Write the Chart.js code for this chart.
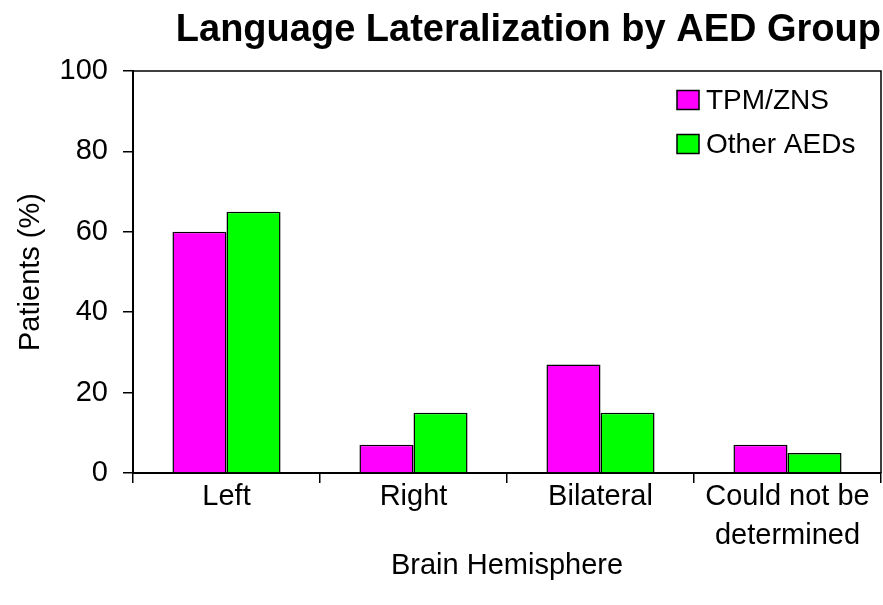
<!DOCTYPE html>
<html>
<head>
<meta charset="utf-8">
<script src="https://cdn.jsdelivr.net/npm/chart.js@4.4.1/dist/chart.umd.min.js"></script>
<style>
  html, body { margin: 0; padding: 0; background: #ffffff; }
  #wrap { width: 883px; height: 605px; position: relative; }
</style>
</head>
<body>
<div id="wrap"><canvas id="c" width="883" height="605"></canvas></div>
<script>
const chartTitle = 'Language Lateralization by AED Group';
const categories = ['Left', 'Right', 'Bilateral', ['Could not be', 'determined']];
const seriesNames = ['TPM/ZNS', 'Other AEDs'];
const tpmZns = [60, 7, 27, 7];
const otherAeds = [65, 15, 15, 5];
const yTickMin = 0, yTickMax = 100, yTickStep = 20;
const xAxisTitle = 'Brain Hemisphere';
const yAxisTitle = 'Patients (%)';

const FONT = "'Liberation Sans', Arial, sans-serif";

const framePlugin = {
  id: 'frame',
  beforeDatasetsDraw(chart) {
    const {ctx, chartArea: a} = chart;
    ctx.save();
    ctx.strokeStyle = '#000';
    ctx.lineWidth = 1.5;
    ctx.beginPath();
    ctx.moveTo(a.left, a.top);
    ctx.lineTo(a.right, a.top);
    ctx.lineTo(a.right, a.bottom);
    ctx.stroke();
    ctx.restore();
  }
};

const legendPlugin = {
  id: 'insideLegend',
  afterDraw(chart) {
    const {ctx} = chart;
    const x0 = 677, y0 = 100, rowGap = 44, bw = 22, bh = 19;
    ctx.save();
    ctx.font = '28px ' + FONT;
    ctx.textBaseline = 'middle';
    ctx.textAlign = 'left';
    chart.data.datasets.forEach((ds, i) => {
      const cy = y0 + i * rowGap;
      ctx.fillStyle = ds.backgroundColor;
      ctx.fillRect(x0, cy - bh / 2, bw, bh);
      ctx.strokeStyle = '#000';
      ctx.lineWidth = 1.5;
      ctx.strokeRect(x0, cy - bh / 2, bw, bh);
      ctx.fillStyle = '#000';
      ctx.fillText(ds.label, x0 + bw + 7, cy + 1);
    });
    ctx.restore();
  }
};

new Chart(document.getElementById('c'), {
  type: 'bar',
  data: {
    labels: categories,
    datasets: [
      { label: seriesNames[0], data: tpmZns, backgroundColor: '#FF00FF', borderColor: '#000', borderWidth: 1.5 },
      { label: seriesNames[1], data: otherAeds, backgroundColor: '#00FF00', borderColor: '#000', borderWidth: 1.5 }
    ]
  },
  options: {
    responsive: false,
    animation: false,
    layout: { padding: { top: 0, right: 2, bottom: 0, left: 0 } },
    datasets: { bar: { categoryPercentage: 0.578, barPercentage: 1.0 } },
    plugins: {
      legend: { display: false },
      tooltip: { enabled: false },
      title: {
        display: true,
        text: chartTitle,
        align: 'end',
        color: '#000',
        font: { family: FONT, size: 38, weight: 'bold', lineHeight: 1.2 },
        padding: { top: 8, bottom: 17.4 }
      }
    },
    scales: {
      x: {
        afterFit(scale) { scale.height = 132; },
        grid: { display: true, drawOnChartArea: false, drawTicks: true, tickLength: 10, color: '#000', lineWidth: 1.5, offset: true },
        border: { display: true, color: '#000', width: 2 },
        ticks: { color: '#000', font: { family: FONT, size: 29, lineHeight: 1.33 }, padding: -5, maxRotation: 0, autoSkip: false },
        title: { display: true, text: xAxisTitle, color: '#000', font: { family: FONT, size: 29, lineHeight: 1.2 }, padding: { top: 0, bottom: 22 } }
      },
      y: {
        min: yTickMin, max: yTickMax,
        afterFit(scale) { scale.width = 133; },
        grid: { display: true, drawOnChartArea: false, drawTicks: true, tickLength: 10, color: '#000', lineWidth: 1.5 },
        border: { display: true, color: '#000', width: 2 },
        ticks: { stepSize: yTickStep, color: '#000', font: { family: FONT, size: 29 }, padding: 15 },
        title: { display: true, text: yAxisTitle, color: '#000', font: { family: FONT, size: 29, lineHeight: 1.2 }, padding: { top: 14, bottom: 0 } }
      }
    }
  },
  plugins: [framePlugin, legendPlugin]
});
</script>
</body>
</html>
